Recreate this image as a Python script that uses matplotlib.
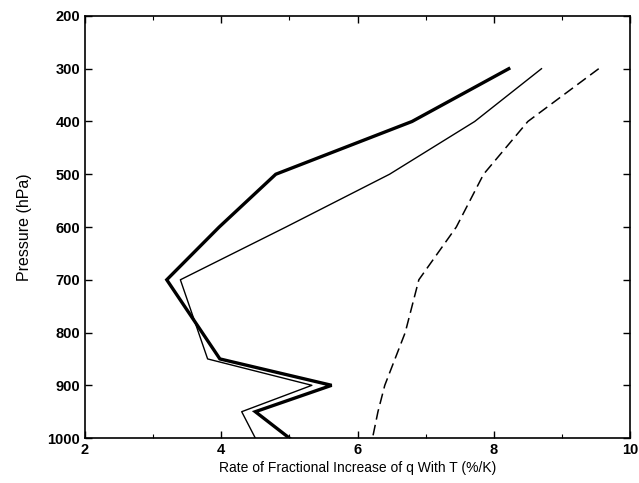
import numpy as np
import matplotlib
matplotlib.use("Agg")
import matplotlib.pyplot as plt
from matplotlib.ticker import MultipleLocator

# pressure levels (hPa)
levels = [300, 400, 500, 600, 700, 850, 900, 950, 1000]

# rate of fractional increase of q with T (%/K)
thick_vals = [8.22, 6.8, 4.8, 3.97, 3.2, 3.98, 5.62, 4.5, 5.0]
thin_vals = [8.7, 7.72, 6.47, 4.95, 3.4, 3.8, 5.33, 4.3, 4.5]
dash_levels = [300, 400, 500, 600, 700, 800, 850, 900, 950, 1000]
dash_vals = [9.54, 8.5, 7.85, 7.45, 6.9, 6.7, 6.55, 6.4, 6.3, 6.22]

plt.rcParams['font.family'] = ['Liberation Sans', 'DejaVu Sans']

fig = plt.figure(figsize=(6.39, 4.83), dpi=100)
ax = fig.add_axes([0.133, 0.093, 0.853, 0.874])

ax.plot(thick_vals, levels, color='black', linewidth=2.4, solid_joinstyle='miter')
ax.plot(thin_vals, levels, color='black', linewidth=1.0)
ax.plot(dash_vals, dash_levels, color='black', linewidth=1.1, linestyle=(0, (7, 3.5)))

ax.set_xlim(2, 10)
ax.set_ylim(1000, 200)
ax.xaxis.set_major_locator(MultipleLocator(2))
ax.xaxis.set_minor_locator(MultipleLocator(1))
ax.yaxis.set_major_locator(MultipleLocator(100))

ax.tick_params(which='both', direction='in', top=True, right=True)
ax.tick_params(which='major', length=5, width=1.0, labelsize=10.5)
ax.tick_params(which='minor', length=3, width=0.8)
for lbl in ax.get_xticklabels() + ax.get_yticklabels():
    lbl.set_fontweight('bold')

for s in ax.spines.values():
    s.set_linewidth(1.2)

ax.set_xlabel('Rate of Fractional Increase of q With T (%/K)', fontsize=10, labelpad=3)
ax.set_ylabel('Pressure (hPa)', fontsize=11.5, labelpad=11)

fig.savefig('out.png', dpi=100)
